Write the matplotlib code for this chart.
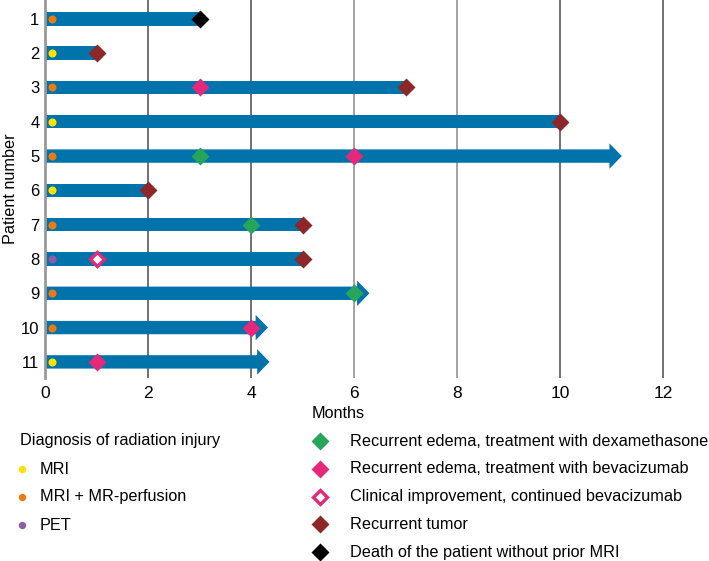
import matplotlib
matplotlib.use("Agg")
import matplotlib.pyplot as plt
from matplotlib.patches import FancyArrow
from matplotlib.lines import Line2D

plt.rcParams['font.family'] = ['Liberation Sans', 'DejaVu Sans']

# ---------------- data ----------------
patients = [1, 2, 3, 4, 5, 6, 7, 8, 9, 10, 11]
follow_up = [3, 1, 7, 10, 11.2, 2, 5, 5, 6.3, 4.33, 4.36]
ongoing = [False, False, False, False, True, False, False, False, True, True, True]
diagnosis = ['MRI+P', 'MRI', 'MRI+P', 'MRI', 'MRI+P', 'MRI', 'MRI+P', 'PET', 'MRI+P', 'MRI+P', 'MRI']

dexa_events = [(5, 3), (7, 4), (9, 6)]
beva_events = [(3, 3), (5, 6), (10, 4), (11, 1)]
improve_events = [(8, 1)]
tumor_events = [(2, 1), (3, 7), (4, 10), (6, 2), (7, 5), (8, 5)]
death_events = [(1, 3)]

diag_labels = ['MRI', 'MRI + MR-perfusion', 'PET']
diag_keys = ['MRI', 'MRI+P', 'PET']
diag_colors = {'MRI': '#FFE100', 'MRI+P': '#EC7A12', 'PET': '#8E5DA6'}

event_labels = ['Recurrent edema, treatment with dexamethasone',
                'Recurrent edema, treatment with bevacizumab',
                'Clinical improvement, continued bevacizumab',
                'Recurrent tumor',
                'Death of the patient without prior MRI']
x_ticks = [0, 2, 4, 6, 8, 10, 12]

BAR = '#0073AB'
GREEN = '#27A55A'
PINK = '#E6287A'
DRED = '#8E2828'
BLACK = '#000000'

# ---------------- figure ----------------
fig = plt.figure(figsize=(7.09, 5.61), dpi=100)
ax_w = 1 - 45/709 - 0.02
ax = fig.add_axes([45/709, 1-378/561, ax_w, 378/561])
ax.set_xlim(0, ax_w * 709 / 51.5)
ax.set_ylim(11.47, 0.45)

for t in x_ticks[1:]:
    ax.axvline(t, color='#4a4a4a' if t in (2, 4, 10, 12) else '#8a8a8a', lw=1.1, zorder=0)

bar_h = 0.39
for p, end, arr in zip(patients, follow_up, ongoing):
    if arr:
        ax.add_patch(FancyArrow(0, p, end, 0, width=bar_h, head_width=0.74,
                                head_length=0.24, length_includes_head=True,
                                color=BAR, lw=0, zorder=2))
    else:
        ax.barh(p, end, height=bar_h, left=0, color=BAR, zorder=2)

for p, d in zip(patients, diagnosis):
    ax.plot(0.13, p, 'o', ms=5.8, color=diag_colors[d], mec='none', zorder=4)

ms = 8.8
def plot_events(ev, color, filled=True):
    xs = [e[1] for e in ev]
    ys = [e[0] for e in ev]
    if filled:
        ax.plot(xs, ys, 'D', ms=ms, color=color, mec='none', ls='none', zorder=5)
    else:
        ax.plot(xs, ys, 'D', ms=ms*0.82, mfc='white', mec=color, mew=2.4, ls='none', zorder=5)

plot_events(dexa_events, GREEN)
plot_events(beva_events, PINK)
plot_events(improve_events, PINK, filled=False)
plot_events(tumor_events, DRED)
plot_events(death_events, BLACK)

for s in ['top', 'right', 'bottom']:
    ax.spines[s].set_visible(False)
ax.spines['left'].set_color('#999999')
ax.spines['left'].set_linewidth(2)
ax.set_xticks(x_ticks)
ax.set_xticklabels([str(t) for t in x_ticks])
ax.set_yticks(patients)
ax.set_yticklabels([str(p) for p in patients])
ax.tick_params(axis='both', length=0, colors='black')
ax.tick_params(axis='x', pad=6, labelsize=12.5)
ax.tick_params(axis='y', pad=4, labelsize=12)
ax.set_xlabel('Months', fontsize=11.7)
ax.xaxis.set_label_coords((338 - 45) / (ax_w * 709), -0.075)
ax.set_ylabel('Patient number', fontsize=11.7, labelpad=2)

# ---------------- legends ----------------
def fx(px):
    return px / 709
def fy(py):
    return 1 - py / 561

fs = 11.7
fig.text(fx(20), fy(441), 'Diagnosis of radiation injury', fontsize=fs, va='center', ha='left')
for i, (lab, key) in enumerate(zip(diag_labels, diag_keys)):
    y = 469 + 28 * i
    fig.add_artist(Line2D([fx(22)], [fy(y)], marker='o', ms=5.3, color=diag_colors[key], mec='none', transform=fig.transFigure))
    fig.text(fx(40), fy(y), lab, fontsize=fs, va='center', ha='left')

ev_styles = [(GREEN, True), (PINK, True), (PINK, False), (DRED, True), (BLACK, True)]
for i, (lab, (c, filled)) in enumerate(zip(event_labels, ev_styles)):
    y = 441 + 27.8 * i
    if filled:
        fig.add_artist(Line2D([fx(320)], [fy(y)], marker='D', ms=ms, color=c, mec='none', transform=fig.transFigure))
    else:
        fig.add_artist(Line2D([fx(320)], [fy(y)], marker='D', ms=ms*0.82, mfc='white', mec=c, mew=2.4, transform=fig.transFigure))
    fig.text(fx(350), fy(y), lab, fontsize=fs, va='center', ha='left')

fig.savefig('out.png', dpi=100)
